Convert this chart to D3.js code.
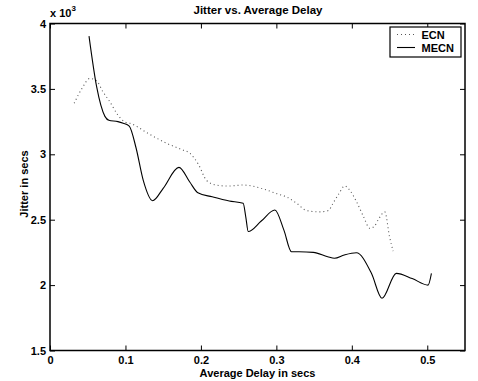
<!DOCTYPE html>
<html><head><meta charset="utf-8">
<script src="https://cdn.jsdelivr.net/npm/d3@7"></script>
<style>body{margin:0;background:#fff}svg{display:block}text{font-family:"Liberation Sans",Arial,sans-serif;font-weight:bold;fill:#000}</style>
</head><body>
<script>
// Jitter values in units of 10^3
const ecnDelay = [0.032,0.042,0.053,0.062,0.07,0.0795,0.09,0.1,0.106,0.13,0.1545,0.175,0.1854,0.197,0.2075,0.22,0.236,0.256,0.28,0.300,0.315,0.327,0.340,0.3576,0.369,0.375,0.383,0.3907,0.398,0.406,0.415,0.424,0.430,0.435,0.4437,0.450,0.4547];
const ecnJitter = [3.39,3.5,3.58,3.56,3.48,3.40,3.30,3.245,3.237,3.16,3.084,3.035,3.008,2.92,2.80,2.765,2.757,2.765,2.74,2.70,2.67,2.625,2.57,2.56,2.57,2.625,2.70,2.758,2.72,2.64,2.53,2.434,2.45,2.50,2.56,2.37,2.26];
const mecnDelay = [0.0517,0.0618,0.0728,0.078,0.09,0.097,0.105,0.114,0.1236,0.136,0.15,0.1709,0.185,0.196,0.215,0.2375,0.256,0.2595,0.2627,0.28,0.298,0.31,0.320,0.33,0.349,0.368,0.377,0.39,0.406,0.426,0.44,0.459,0.48,0.501,0.5055];
const mecnJitter = [3.904,3.517,3.29,3.26,3.25,3.237,3.216,3.05,2.80,2.645,2.74,2.90,2.79,2.706,2.675,2.643,2.625,2.52,2.41,2.49,2.574,2.42,2.255,2.255,2.25,2.217,2.205,2.23,2.247,2.09,1.899,2.09,2.05,2.0,2.09];
const xTicks = [0,0.1,0.2,0.3,0.4,0.5];
const yTicks = [1.5,2,2.5,3,3.5,4];
const seriesNames = ["ECN","MECN"];

const W=478,H=381;
const svg=d3.select("body").append("svg").attr("width",W).attr("height",H);
const L=50,R=465,T=23.5,B=350.5;
const x=d3.scaleLinear().domain([0,0.55]).range([L,R]);
const y=d3.scaleLinear().domain([1.5,4]).range([B,T]);

const line=d3.line().x(d=>x(d[0])).y(d=>y(d[1])).curve(d3.curveMonotoneX);
const ecn=ecnDelay.map((d,i)=>[d,ecnJitter[i]]);
const mecn=mecnDelay.map((d,i)=>[d,mecnJitter[i]]);

svg.append("path").attr("d",line(ecn)).attr("fill","none").attr("stroke","#555").attr("stroke-width",1.1).attr("stroke-dasharray","1,3");
svg.append("path").attr("d",line(mecn)).attr("fill","none").attr("stroke","#000").attr("stroke-width",1.1);

// axes (ticks inside on all sides)
const tl=5;
const gx=svg.append("g").attr("transform",`translate(0,${B})`).call(d3.axisBottom(x).tickValues(xTicks).tickSize(-tl).tickPadding(6).tickFormat(d3.format("")));
const gxt=svg.append("g").attr("transform",`translate(0,${T})`).call(d3.axisTop(x).tickValues(xTicks).tickSize(-tl).tickFormat(""));
const gy=svg.append("g").attr("transform",`translate(${L},0)`).call(d3.axisLeft(y).tickValues(yTicks).tickSize(-tl).tickPadding(4).tickFormat(d3.format("")));
const gyr=svg.append("g").attr("transform",`translate(${R},0)`).call(d3.axisRight(y).tickValues(yTicks).tickSize(-tl).tickFormat(""));
[gx,gxt,gy,gyr].forEach(g=>{g.select(".domain").remove();g.selectAll(".tick line").attr("stroke","#000").attr("stroke-width",1);g.selectAll("text").attr("font-size",11).attr("font-weight","bold").attr("font-family","Liberation Sans, Arial, sans-serif");});
gx.selectAll("text").attr("dy","0.71em");
svg.append("rect").attr("x",L).attr("y",T).attr("width",R-L).attr("height",B-T).attr("fill","none").attr("stroke","#000").attr("stroke-width",1.5);

// labels
svg.append("text").attr("x",258).attr("y",14).attr("text-anchor","middle").attr("font-size",11.5).text("Jitter vs. Average Delay");
svg.append("text").attr("x",257.5).attr("y",377).attr("text-anchor","middle").attr("font-size",11).text("Average Delay in secs");
svg.append("text").attr("transform","translate(28,184) rotate(-90)").attr("text-anchor","middle").attr("font-size",11).text("Jitter in secs");
const ex=svg.append("text").attr("x",50).attr("y",17).attr("font-size",11);
ex.append("tspan").text("x 10");
ex.append("tspan").attr("dy",-6).attr("font-size",8).text("3");

// legend
const lg=svg.append("g");
lg.append("rect").attr("x",390).attr("y",27).attr("width",71).attr("height",30).attr("fill","#fff").attr("stroke","#000").attr("stroke-width",1.2);
const leg=[{n:seriesNames[0],dash:"1,3",c:"#555",y:34.5},{n:seriesNames[1],dash:null,c:"#000",y:47.5}];
leg.forEach(l=>{
  const ln=lg.append("line").attr("x1",397).attr("x2",415).attr("y1",l.y).attr("y2",l.y).attr("stroke",l.c).attr("stroke-width",1.1);
  if(l.dash) ln.attr("stroke-dasharray",l.dash);
  lg.append("text").attr("x",421.5).attr("y",l.y+4).attr("font-size",11).text(l.n);
});
</script>
</body></html>
